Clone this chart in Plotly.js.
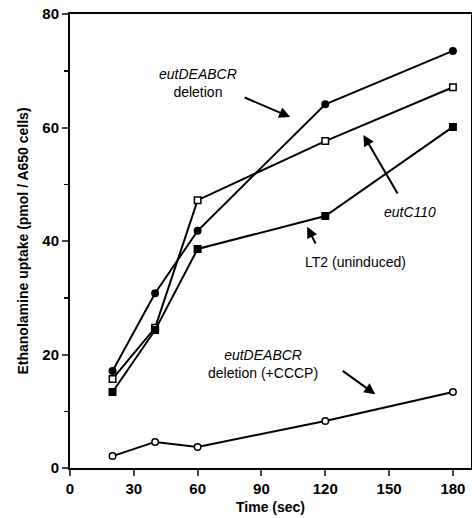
<!DOCTYPE html>
<html><head><meta charset="utf-8">
<script src="https://cdn.plot.ly/plotly-3.0.1.min.js"></script>
<style>html,body{margin:0;padding:0;background:#fff;}</style>
</head><body><div id="chart" style="width:472px;height:518px;"></div>
<script>
const times = [20, 40, 60, 120, 180];
const deletion = [17.1, 30.8, 41.8, 64.1, 73.5];
const eutC110 = [15.7, 24.7, 47.2, 57.6, 67.1];
const lt2 = [13.4, 24.3, 38.6, 44.4, 60.1];
const deletionCCCP = [2.1, 4.6, 3.7, 8.3, 13.4];
const xTicks = [0, 30, 60, 90, 120, 150, 180];
const yTicks = [0, 20, 40, 60, 80];

function tr(y, sym, fill) {
  return {x: times, y: y, mode: 'lines+markers', type: 'scatter',
    line: {color: '#000', width: 2},
    marker: {symbol: sym, size: 6.5, color: fill, line: {color: '#000', width: 1.5}},
    showlegend: false, cliponaxis: false};
}
const data = [tr(deletion, 'circle', '#000'), tr(eutC110, 'square', '#fff'), tr(lt2, 'square', '#000'), tr(deletionCCCP, 'circle', '#fff')];
const F = {family: 'Liberation Sans, Arial, sans-serif', size: 14, color: '#000'};
function arrow(hx, hy, tx, ty) {
  return {x: hx, y: hy, ax: tx, ay: ty, xref: 'x', yref: 'y', axref: 'x', ayref: 'y',
    text: '', showarrow: true, arrowhead: 2, arrowsize: 1.1, arrowwidth: 2, arrowcolor: '#000', standoff: 0, startstandoff: 0};
}
function label(x, y, t) {
  return {x: x, y: y, xref: 'x', yref: 'y', text: t, showarrow: false, font: F, align: 'center'};
}
const layout = {
  width: 472, height: 518,
  margin: {l: 70, r: 1, t: 14, b: 50},
  paper_bgcolor: '#fff', plot_bgcolor: '#fff',
  font: F,
  xaxis: {range: [0, 188.5], tickvals: xTicks, ticktext: xTicks.map(String), ticks: 'outside', ticklen: 6, tickwidth: 2,
    showline: true, linewidth: 2, linecolor: '#000', mirror: true, showgrid: false, zeroline: false,
    tickfont: {family: 'Liberation Sans, Arial, sans-serif', size: 15, weight: 'bold', color: '#000'},
    title: {text: 'Time (sec)', font: {family: 'Liberation Sans, Arial, sans-serif', size: 14, weight: 'bold', color: '#000'}, standoff: 6}},
  yaxis: {range: [0, 80], tickvals: yTicks, ticktext: yTicks.map(String), ticks: 'outside', ticklen: 6, tickwidth: 2,
    minor: {dtick: 10, ticks: 'outside', ticklen: 4, tickwidth: 1.5, tickcolor: '#000', showgrid: false},
    showline: true, linewidth: 2, linecolor: '#000', mirror: true, showgrid: false, zeroline: false,
    tickfont: {family: 'Liberation Sans, Arial, sans-serif', size: 15, weight: 'bold', color: '#000'},
    title: {text: 'Ethanolamine uptake (pmol / A650 cells)', font: {family: 'Liberation Sans, Arial, sans-serif', size: 14, weight: 'bold', color: '#000'}, standoff: 10}},
  annotations: [
    label(60.2, 67.8, '<i>eutDEABCR</i><br>deletion'),
    label(160, 45.1, '<i>eutC110</i>'),
    label(134.1, 36.3, 'LT2 (uninduced)'),
    label(90.8, 18.3, '<i>eutDEABCR</i><br>deletion (+CCCP)'),
    arrow(103.5, 61.85, 81.4, 65.4),
    arrow(137.9, 58.7, 154.4, 48.1),
    arrow(111.5, 42.5, 115.8, 39.3),
    arrow(143.5, 13.0, 127.5, 17.3)
  ]
};
Plotly.newPlot('chart', data, layout, {displayModeBar: false, staticPlot: true});
</script></body></html>
